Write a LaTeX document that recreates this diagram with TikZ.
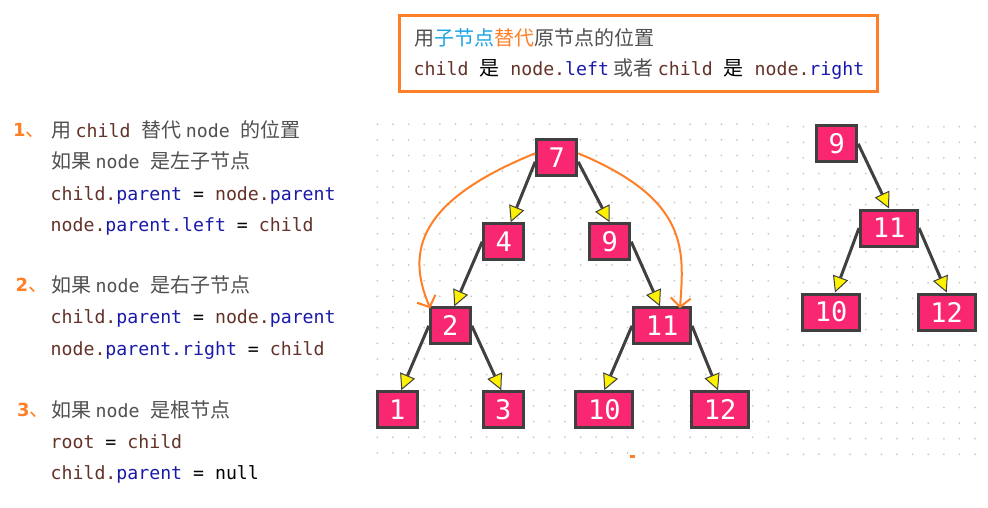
\documentclass[tikz,border=0pt]{standalone}
\usepackage{fontspec}
\setmainfont{Noto Sans CJK SC}
\newfontfamily\monofam{DejaVu Sans Mono}
\newfontfamily\numfam{DejaVu Sans}
\usetikzlibrary{arrows.meta}
\definecolor{pinkbox}{RGB}{249,38,114}
\definecolor{edgegray}{RGB}{64,64,64}
\definecolor{orangec}{RGB}{255,127,39}
\definecolor{cyanc}{RGB}{27,163,226}
\definecolor{txtgray}{RGB}{80,80,80}
\definecolor{codebrown}{RGB}{99,50,40}
\definecolor{codeblue}{RGB}{25,25,170}
\definecolor{dotgray}{RGB}{200,200,200}
\newcommand\cdfont{\monofam\fontsize{18.2}{22}\selectfont}
\newcommand\cdB[1]{{\cdfont\color{codebrown}#1}}
\newcommand\cdL[1]{{\cdfont\color{codeblue}#1}}
\newcommand\cdK[1]{{\cdfont\color{black}#1}}
\newcommand\cdG[1]{{\cdfont\color{txtgray}#1}}
\newcommand\numtxt[1]{{\numfam\bfseries\fontsize{18}{22}\selectfont #1}、}
\begin{document}
\begin{tikzpicture}[x=1pt,y=-1pt,
  tnode/.style={draw=edgegray, line width=3pt, fill=pinkbox, text=white,
    font=\monofam\fontsize{27}{30}\selectfont, minimum width=40pt,
    minimum height=36pt, inner sep=0pt},
  wnode/.style={tnode, minimum width=57pt},
  tedge/.style={draw=edgegray, line width=3pt,
    -{Triangle[length=16pt,width=16pt,fill=yellow,line width=1pt]}},
  oarrow/.style={draw=orangec, line width=2pt,
    -{Straight Barb[length=9pt,width=20pt,line width=2pt]}},
  lbl/.style={anchor=base west, inner sep=0pt, text=txtgray,
    font=\fontsize{20}{24}\selectfont},
  numlbl/.style={lbl, text=orangec}]
\useasboundingbox (0,0) rectangle (988,507);
% dot grids
\foreach \i in {0,...,25}{\foreach \j in {0,...,21}{
  \fill[dotgray] ({377.3+15.64*\i},{124.2+15.65*\j}) circle (1pt);}}
\foreach \i in {0,...,12}{\foreach \j in {0,...,21}{
  \fill[dotgray] ({787.7+15.61*\i},{126.7+15.6*\j}) circle (1pt);}}
% top box
\node (topbox) [draw=orangec, line width=3pt, minimum width=477.7pt,
  minimum height=75.7pt, inner sep=0pt] at (638.7,53.4) {};
\node[lbl] (t1) at (414,45) {用\textcolor{cyanc}{子节点}\textcolor{orangec}{替代}原节点的位置};
\node[lbl] (t2) at (413.5,75) {\cdB{child\ }{\color{black}是}\cdB{\ node.}\cdL{left} 或者 \cdB{child\ }{\color{black}是}\cdB{\ node.}\cdL{right}};
% left text
\node[numlbl] (k1) at (13,136) {\numtxt{1}};
\node[lbl] (a1) at (51,137.5) {用 \cdB{child\ }替代 \cdG{node\ }的位置};
\node[lbl] (a2) at (51,168.7) {如果 \cdG{node\ }是左子节点};
\node[lbl] (a3) at (50.5,200) {\cdB{child.}\cdL{parent}\cdK{\ =\ }\cdB{node.}\cdL{parent}};
\node[lbl] (a4) at (50.5,231.2) {\cdB{node.}\cdL{parent.left}\cdK{\ =\ }\cdB{child}};
\node[numlbl] (k2) at (15.5,291) {\numtxt{2}};
\node[lbl] (b1) at (51,292.5) {如果 \cdG{node\ }是右子节点};
\node[lbl] (b2) at (50.5,323.7) {\cdB{child.}\cdL{parent}\cdK{\ =\ }\cdB{node.}\cdL{parent}};
\node[lbl] (b3) at (50.5,355) {\cdB{node.}\cdL{parent.right}\cdK{\ =\ }\cdB{child}};
\node[numlbl] (k3) at (17,416) {\numtxt{3}};
\node[lbl] (c1) at (51,417.3) {如果 \cdG{node\ }是根节点};
\node[lbl] (c2) at (50.5,448.5) {\cdB{root}\cdK{\ =\ }\cdB{child}};
\node[lbl] (c3) at (50.5,479.7) {\cdB{child.}\cdL{parent}\cdK{\ =\ null}};
% left tree
\node[tnode] (n7) at (556.7,157.8) {7};
\node[tnode] (n4) at (503.7,241.7) {4};
\node[tnode] (n9) at (609.7,241.7) {9};
\node[tnode] (n2) at (450.3,325.8) {2};
\node[wnode] (n11) at (662,325.8) {11};
\node[tnode] (n1) at (397.3,409.7) {1};
\node[tnode] (n3) at (503.3,409.7) {3};
\node[wnode] (n10) at (604.3,409.7) {10};
\node[wnode] (n12) at (720,409.7) {12};
% right tree
\node[tnode] (m9) at (836.7,143.8) {9};
\node[wnode] (m11) at (889,228) {11};
\node[wnode] (m10) at (831,312) {10};
\node[wnode] (m12) at (946.7,312) {12};
% edges
\draw[tedge] ([yshift=-4pt]n7.west) -- ([xshift=7pt]n4.north);
\draw[tedge] ([yshift=-4pt]n7.east) -- (n9.north);
\draw[tedge] (n4.west) -- ([xshift=4pt]n2.north);
\draw[tedge] (n9.east) -- ([xshift=-2pt]n11.north);
\draw[tedge] (n2.west) -- ([xshift=4pt]n1.north);
\draw[tedge] (n2.east) -- ([xshift=-2pt]n3.north);
\draw[tedge] (n11.west) -- (n10.north);
\draw[tedge] (n11.east) -- ([xshift=-2pt]n12.north);
\draw[tedge] (m9.east) -- (m11.north);
\draw[tedge] (m11.west) -- ([xshift=4pt]m10.north);
\draw[tedge] (m11.east) -- (m12.north);
% orange replacement arrows
\draw[oarrow] ([yshift=4.5pt]n7.west) .. controls (420,200) and (405,250) .. ([xshift=-20pt,yshift=-2pt]n2.north);
\draw[oarrow] ([yshift=4.5pt]n7.east) .. controls (690,200) and (684,250) .. ([xshift=18pt,yshift=-2pt]n11.north);
\fill[orangec] (630,455) rectangle (635,457.5);
\end{tikzpicture}
\end{document}
